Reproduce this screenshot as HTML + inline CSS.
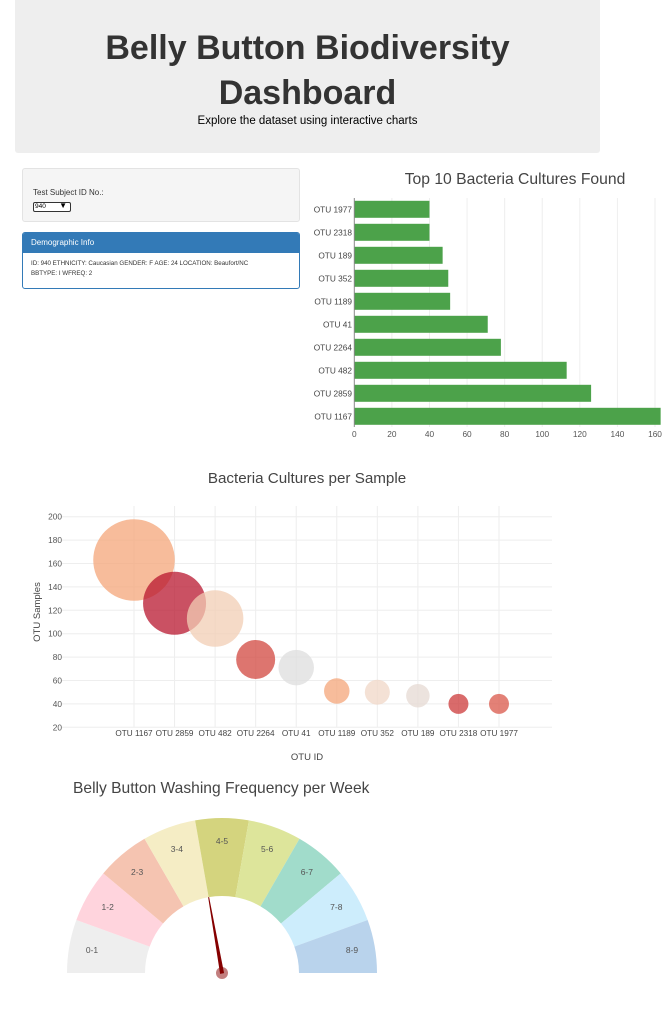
<!DOCTYPE html>
<html><head><meta charset="utf-8">
<style>
body{margin:0;width:672px;height:1009px;background:#fff;font-family:"Liberation Sans",sans-serif;position:relative;overflow:hidden}
.jumbo{position:absolute;left:15px;top:0;width:585px;height:153px;background:#eee;border-radius:0 0 3px 3px;text-align:center;color:#333}
.jumbo h1{margin:0;position:absolute;top:26px;left:0;width:100%;font-size:34px;line-height:45px;font-weight:bold}
.jumbo p{margin:0;position:absolute;top:115px;width:100%;font-size:11.5px;color:#000}
.well{position:absolute;left:22px;top:168px;width:276px;height:52px;background:#f5f5f5;border:1px solid #e3e3e3;border-radius:3px}
.panel{position:absolute;left:22px;top:232px;width:276px;height:55px;border:1px solid #337ab7;border-radius:3px;overflow:hidden}
svg{position:absolute;left:0;top:0}
</style></head><body>
<div class="jumbo">
<h1>Belly Button Biodiversity<br>Dashboard</h1>
<p>Explore the dataset using interactive charts</p>
</div>
<div class="well">
<div style="position:absolute;left:10px;top:19px;font-size:8px;color:#333">Test Subject ID No.:</div>
<div style="position:absolute;left:10px;top:33px;width:35px;height:8px;border:1px solid #333;border-radius:2px;background:#fff;font-size:6.5px;line-height:8px;padding-left:1px">940<span style="position:absolute;right:3px;top:-1px;font-size:8px;font-weight:bold">&#9660;</span></div>
</div>
<div class="panel">
<div style="background:#337ab7;color:#fff;font-size:8px;height:20px;line-height:19px;padding-left:8px">Demographic Info</div>
<div style="padding:6px 8px;font-size:6.2px;line-height:10px;color:#333">ID: 940 ETHNICITY: Caucasian GENDER: F AGE: 24 LOCATION: Beaufort/NC<br>BBTYPE: I WFREQ: 2</div>
</div>
<svg id="chart" width="672" height="1009" font-family="Liberation Sans, DejaVu Sans, sans-serif"></svg>
<script>
const barLabels=["OTU 1977","OTU 2318","OTU 189","OTU 352","OTU 1189","OTU 41","OTU 2264","OTU 482","OTU 2859","OTU 1167"];
const barValues=[40,40,47,50,51,71,78,113,126,163];
const barTicks=[0,20,40,60,80,100,120,140,160];
const bubbleLabels=["OTU 1167","OTU 2859","OTU 482","OTU 2264","OTU 41","OTU 1189","OTU 352","OTU 189","OTU 2318","OTU 1977"];
const bubbleValues=[163,126,113,78,71,51,50,47,40,40];
const bubbleColors=["#f4a679","#b8172f","#f2cdb4","#d2473f","#dedede","#f4a679","#f0d7c7","#e5dad3","#cc3a3a","#d9574a"];
const bubbleYTicks=[20,40,60,80,100,120,140,160,180,200];
const gaugeLabels=["0-1","1-2","2-3","3-4","4-5","5-6","6-7","7-8","8-9"];
const gaugeColors=["#eeeeee","#ffd4dd","#f5c4b1","#f5edc5","#d4d47e","#dde59b","#a1dccb","#cdedfc","#b9d3ec"];
const gaugeValue=[4.0];

const NS="http://www.w3.org/2000/svg";
const svg=document.getElementById('chart');
function mk(tag,attrs,parent){const e=document.createElementNS(NS,tag);for(const k in attrs)e.setAttribute(k,attrs[k]);(parent||svg).appendChild(e);return e;}
function txt(x,y,s,size,fill,anchor,extra){const t=mk('text',Object.assign({x:x,y:y,'font-size':size,fill:fill,'text-anchor':anchor||'start'},extra||{}));t.textContent=s;return t;}

// ---- Bar chart ----
const bx=v=>354.3+v*(655-354.3)/160;
const by=i=>209.3+i*23;
let t=txt(515,184,"Top 10 Bacteria Cultures Found",15.7,"#444","middle");


barTicks.forEach(v=>{
  if(v>0){const g=mk('line',{x1:bx(v),x2:bx(v),y1:198,y2:427,stroke:'#eee'});
  
  }
  const l=txt(bx(v),437,String(v),8.3,"#555","middle");
  
  
});
barValues.forEach((v,i)=>{
  const r=mk('rect',{x:bx(0),y:by(i)-8.5,width:bx(v)-bx(0),height:17,fill:'#4ca24a'});
  
  
  const l=txt(352,by(i)+3,barLabels[i],8.3,"#444","end");
  
  
});
let ax=mk('line',{x1:354.3,x2:354.3,y1:198,y2:427,stroke:'#888','stroke-width':1});



// ---- Bubble chart ----
const qx=i=>134+i*(499-134)/9;
const qy=v=>727.3-(v-20)*(727.3-516.7)/180;
t=txt(307,483,"Bacteria Cultures per Sample",15.2,"#444","middle");


bubbleYTicks.forEach(v=>{
  const g=mk('line',{x1:62,x2:552,y1:qy(v),y2:qy(v),stroke:'#eee'});
  
  
  const l=txt(62,qy(v)+3,String(v),8.3,"#555","end");
  
  
});
bubbleLabels.forEach((s,i)=>{
  const g=mk('line',{x1:qx(i),x2:qx(i),y1:506,y2:727,stroke:'#eee'});
  
  
});
bubbleValues.forEach((v,i)=>{
  const c=mk('circle',{cx:qx(i),cy:qy(v),r:v/4,fill:bubbleColors[i],'fill-opacity':0.75});
  
  
  const l=txt(qx(i),736,bubbleLabels[i],8.2,"#444","middle");
  
  
});
t=txt(307,760,"OTU ID",9.5,"#444","middle");


t=txt(0,0,"OTU Samples",9.5,"#444","middle",{transform:'translate(40,612) rotate(-90)'});



// ---- Gauge ----
t=txt(73,793,"Belly Button Washing Frequency per Week",15.6,"#444","start");


const gcx=222,gcy=973,R=155,r0=77;
const P=(rad,a)=>[gcx+rad*Math.cos(a),gcy-rad*Math.sin(a)];
gaugeLabels.forEach((s,i)=>{
  const a1=Math.PI-i*Math.PI/9,a2=Math.PI-(i+1)*Math.PI/9;
  const p1=P(R,a1),p2=P(R,a2),p3=P(r0,a2),p4=P(r0,a1);
  const d=`M${p1} A${R},${R} 0 0 1 ${p2} L${p3} A${r0},${r0} 0 0 0 ${p4} Z`;
  const pa=mk('path',{d:d,fill:gaugeColors[i]});
  
  
  const am=(a1+a2)/2,lp=P(132,am);
  const l=txt(lp[0],lp[1]+3,s,8.5,"#555","middle");
  
  
});
const na=Math.PI-gaugeValue[0]*Math.PI/9;
const tip=P(r0,na);
const perp=[Math.sin(na)*1.5,Math.cos(na)*1.5];
let nd=mk('path',{d:`M${tip} L${gcx+perp[0]},${gcy+perp[1]} L${gcx-perp[0]},${gcy-perp[1]} Z`,fill:'#850000',stroke:'#850000'});


let hub=mk('circle',{cx:gcx,cy:gcy,r:6,fill:'#850000','fill-opacity':0.5});


</script>
</body></html>
